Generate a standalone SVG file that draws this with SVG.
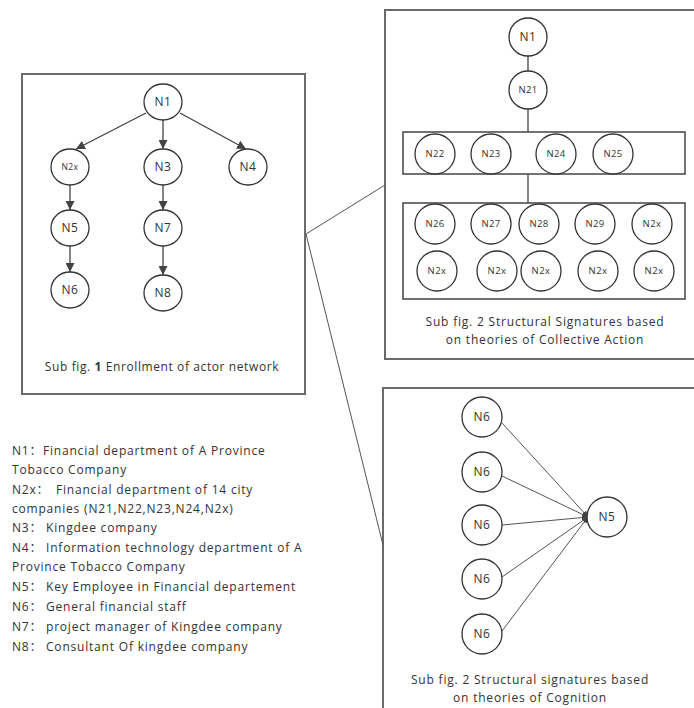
<svg xmlns="http://www.w3.org/2000/svg" width="694" height="708" viewBox="0 0 694 708">
<style>
text{font-family:"Open Sans","Noto Sans CJK SC",sans-serif;fill:#333}
.frame{fill:none;stroke:#6a6a6a;stroke-width:2}
.inbox{fill:none;stroke:#444;stroke-width:1.5}
.nd{fill:#fff;stroke:#333;stroke-width:1.3}
.lb{font-size:12px;text-anchor:middle;letter-spacing:0.5px}
.sm{font-size:8.5px;text-anchor:middle;letter-spacing:0.4px}
.md{font-size:9.5px;text-anchor:middle;letter-spacing:0.4px}
.cap{font-size:12px;text-anchor:middle;letter-spacing:0.8px}
.leg{font-size:12px;letter-spacing:0.8px}
.ln{stroke:#444;stroke-width:1.3;fill:none}
.thin{stroke:#555;stroke-width:1;fill:none}
</style>
<defs>
<marker id="ah" viewBox="0 0 10 10" refX="10" refY="5" markerWidth="9" markerHeight="9" markerUnits="userSpaceOnUse" orient="auto">
<path d="M0,0 L10,5 L0,10 z" fill="#444"/>
</marker>
<marker id="ahs" viewBox="0 0 10 10" refX="10" refY="5" markerWidth="6" markerHeight="6" markerUnits="userSpaceOnUse" orient="auto">
<path d="M0,0 L10,5 L0,10 z" fill="#444"/>
</marker>
</defs>

<g id="frames">
<rect class="frame" x="22" y="74" width="283" height="320"/>
<rect class="frame" x="385" y="10" width="320" height="349"/>
<rect class="frame" x="383" y="388" width="320" height="340"/>
</g>

<g id="connectors">
<line class="thin" x1="306" y1="234" x2="385" y2="185"/>
<line class="thin" x1="306" y1="234" x2="383" y2="545"/>
<line class="ln" x1="146" y1="113" x2="76" y2="149" marker-end="url(#ah)"/>
<line class="ln" x1="163" y1="120" x2="163" y2="149" marker-end="url(#ah)"/>
<line class="ln" x1="180" y1="113" x2="246" y2="149" marker-end="url(#ah)"/>
<line class="ln" x1="70" y1="185" x2="70" y2="210" marker-end="url(#ah)"/>
<line class="ln" x1="163" y1="185" x2="163" y2="210" marker-end="url(#ah)"/>
<line class="ln" x1="70" y1="246" x2="70" y2="272" marker-end="url(#ah)"/>
<line class="ln" x1="163" y1="246" x2="163" y2="275" marker-end="url(#ah)"/>
<line class="ln" x1="528" y1="56" x2="528" y2="71"/>
<line class="ln" x1="528" y1="109" x2="528" y2="132"/>
<line class="ln" x1="528" y1="174" x2="528" y2="203"/>
<line class="thin" x1="502" y1="423" x2="588" y2="517" marker-end="url(#ahs)"/>
<line class="thin" x1="502" y1="476" x2="588" y2="517" marker-end="url(#ahs)"/>
<line class="thin" x1="502" y1="525" x2="588" y2="517" marker-end="url(#ahs)"/>
<line class="thin" x1="502" y1="577" x2="588" y2="517" marker-end="url(#ahs)"/>
<line class="thin" x1="502" y1="631" x2="588" y2="517" marker-end="url(#ahs)"/>
</g>

<g id="sub1">
<g id="s1-N1"><ellipse class="nd" cx="163" cy="102" rx="19" ry="18"/><text class="lb" x="163" y="106">N1</text></g>
<g id="s1-N2x"><ellipse class="nd" cx="70" cy="167" rx="19" ry="18"/><text class="sm" x="70" y="170">N2x</text></g>
<g id="s1-N3"><ellipse class="nd" cx="163" cy="167" rx="19" ry="18"/><text class="lb" x="163" y="171">N3</text></g>
<g id="s1-N4"><ellipse class="nd" cx="248" cy="167" rx="19" ry="18"/><text class="lb" x="248" y="171">N4</text></g>
<g id="s1-N5"><ellipse class="nd" cx="70" cy="228" rx="19" ry="18"/><text class="lb" x="70" y="232">N5</text></g>
<g id="s1-N7"><ellipse class="nd" cx="163" cy="228" rx="19" ry="18"/><text class="lb" x="163" y="232">N7</text></g>
<g id="s1-N6"><ellipse class="nd" cx="70" cy="290" rx="19" ry="18"/><text class="lb" x="70" y="294">N6</text></g>
<g id="s1-N8"><ellipse class="nd" cx="163" cy="293" rx="19" ry="18"/><text class="lb" x="163" y="297">N8</text></g>
<text class="cap" x="162" y="371" style="letter-spacing:0.6px">Sub fig. <tspan font-weight="bold">1</tspan> Enrollment of actor network</text>
</g>

<g id="sub2">
<g id="s2-N1"><circle class="nd" cx="528" cy="37" r="19"/><text class="lb" x="528" y="41">N1</text></g>
<g id="s2-N21"><circle class="nd" cx="528" cy="90" r="19"/><text class="md" x="528" y="93">N21</text></g>
<rect class="inbox" x="403" y="132" width="282" height="42"/>
<g id="s2-N22"><circle class="nd" cx="435" cy="154" r="20"/><text class="md" x="435" y="157">N22</text></g>
<g id="s2-N23"><circle class="nd" cx="491" cy="154" r="20"/><text class="md" x="491" y="157">N23</text></g>
<g id="s2-N24"><circle class="nd" cx="556" cy="154" r="20"/><text class="md" x="556" y="157">N24</text></g>
<g id="s2-N25"><circle class="nd" cx="613" cy="154" r="20"/><text class="md" x="613" y="157">N25</text></g>
<rect class="inbox" x="403" y="203" width="282" height="96"/>
<g id="s2-N26"><circle class="nd" cx="435" cy="224" r="20"/><text class="md" x="435" y="227">N26</text></g>
<g id="s2-N27"><circle class="nd" cx="491" cy="224" r="20"/><text class="md" x="491" y="227">N27</text></g>
<g id="s2-N28"><circle class="nd" cx="539" cy="224" r="20"/><text class="md" x="539" y="227">N28</text></g>
<g id="s2-N29"><circle class="nd" cx="595" cy="224" r="20"/><text class="md" x="595" y="227">N29</text></g>
<g id="s2-N2x-a"><circle class="nd" cx="652" cy="224" r="20"/><text class="md" x="652" y="227">N2x</text></g>
<g id="s2-N2x-b"><circle class="nd" cx="437" cy="271" r="20"/><text class="md" x="437" y="274">N2x</text></g>
<g id="s2-N2x-c"><circle class="nd" cx="497" cy="271" r="20"/><text class="md" x="497" y="274">N2x</text></g>
<g id="s2-N2x-d"><circle class="nd" cx="541" cy="271" r="20"/><text class="md" x="541" y="274">N2x</text></g>
<g id="s2-N2x-e"><circle class="nd" cx="598" cy="271" r="20"/><text class="md" x="598" y="274">N2x</text></g>
<g id="s2-N2x-f"><circle class="nd" cx="654" cy="271" r="20"/><text class="md" x="654" y="274">N2x</text></g>
<text class="cap" x="545" y="326">Sub fig. 2 Structural Signatures based</text>
<text class="cap" x="545" y="344">on theories of Collective Action</text>
</g>

<g id="sub3">
<g id="s3-N6a"><circle class="nd" cx="482" cy="417" r="20"/><text class="lb" x="482" y="421">N6</text></g>
<g id="s3-N6b"><circle class="nd" cx="482" cy="472" r="20"/><text class="lb" x="482" y="476">N6</text></g>
<g id="s3-N6c"><circle class="nd" cx="482" cy="525" r="20"/><text class="lb" x="482" y="529">N6</text></g>
<g id="s3-N6d"><circle class="nd" cx="482" cy="579" r="20"/><text class="lb" x="482" y="583">N6</text></g>
<g id="s3-N6e"><circle class="nd" cx="482" cy="634" r="20"/><text class="lb" x="482" y="638">N6</text></g>
<g id="s3-N5"><circle class="nd" cx="607" cy="517" r="20"/><text class="lb" x="607" y="521">N5</text></g>
<text class="cap" x="530" y="684">Sub fig. 2 Structural signatures based</text>
<text class="cap" x="530" y="702">on theories of Cognition</text>
</g>

<g id="legend">
<text class="leg" x="12" y="455">N1：<tspan x="43">Financial department of A Province</tspan></text>
<text class="leg" x="12" y="474">Tobacco Company</text>
<text class="leg" x="12" y="494">N2x：<tspan x="56">Financial department of 14 city</tspan></text>
<text class="leg" x="12" y="513">companies (N21,N22,N23,N24,N2x)</text>
<text class="leg" x="12" y="532">N3：<tspan x="46">Kingdee company</tspan></text>
<text class="leg" x="12" y="552">N4：<tspan x="46">Information technology department of A</tspan></text>
<text class="leg" x="12" y="571">Province Tobacco Company</text>
<text class="leg" x="12" y="591">N5：<tspan x="46">Key Employee in Financial departement</tspan></text>
<text class="leg" x="12" y="611">N6：<tspan x="46">General financial staff</tspan></text>
<text class="leg" x="12" y="631">N7：<tspan x="46">project manager of Kingdee company</tspan></text>
<text class="leg" x="12" y="651">N8：<tspan x="46">Consultant Of kingdee company</tspan></text>
</g>
</svg>
